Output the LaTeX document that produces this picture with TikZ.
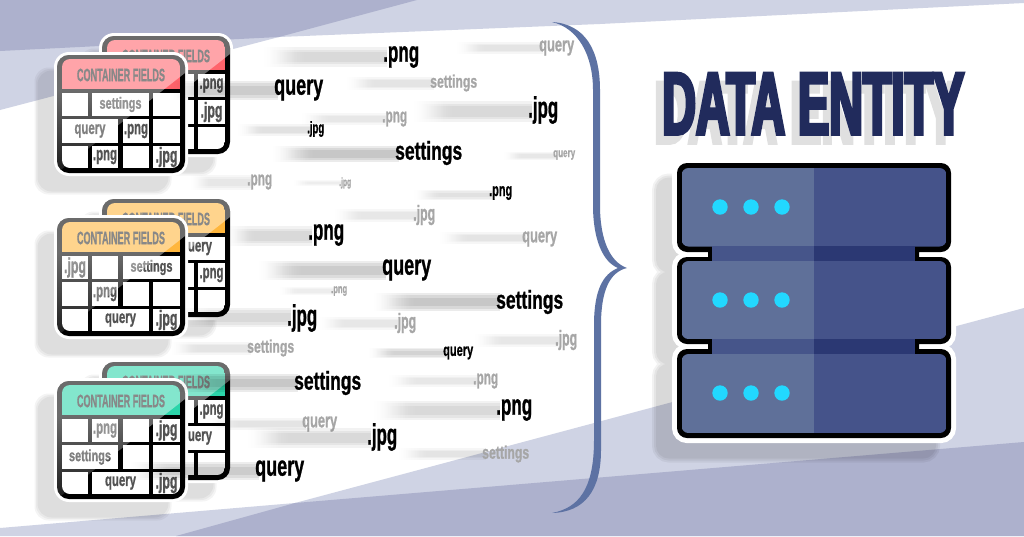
\documentclass[tikz,border=0pt]{standalone}
\usepackage{fontspec}
\usetikzlibrary{fadings}
\setmainfont{Liberation Sans}
\newfontfamily\cond[FakeBold=1.2]{Liberation Sans Bold}
\newfontfamily\heavy[FakeStretch=0.55,FakeBold=3.5]{Liberation Sans Bold}
\definecolor{bgl}{HTML}{CFD3E4}
\definecolor{bgd}{HTML}{ADB1CD}
\definecolor{bracec}{HTML}{5D72A3}
\definecolor{srvl}{HTML}{5F7099}
\definecolor{srvr}{HTML}{45538A}
\definecolor{bandl}{HTML}{46558A}
\definecolor{bandr}{HTML}{2B3873}
\definecolor{dotc}{HTML}{22D8FF}
\definecolor{titlec}{HTML}{212B5C}
\definecolor{tgray}{HTML}{A6A6A6}
\definecolor{pinkc}{HTML}{FF636B}
\definecolor{orangec}{HTML}{FFB63C}
\definecolor{tealc}{HTML}{2BD5AA}
\pgfdeclarehorizontalshading{sfshade}{100bp}{color(0bp)=(transparent!100);color(25bp)=(transparent!100);color(38bp)=(transparent!0);color(100bp)=(transparent!0)}
\pgfdeclarefading{streakfade}{\pgfuseshading{sfshade}}
\pgfdeclareverticalshading{glshade}{100bp}{color(0bp)=(transparent!75);color(25bp)=(transparent!75);color(60bp)=(transparent!0);color(100bp)=(transparent!0)}
\pgfdeclarefading{glossfade}{\pgfuseshading{glshade}}
\newcounter{nid}
% height/width ratio of each word's ink
\expandafter\def\csname r.png\endcsname{.6}
\expandafter\def\csname r.jpg\endcsname{.92}
\expandafter\def\csname rquery\endcsname{.43}
\expandafter\def\csname rsettings\endcsname{.36}
\newcommand{\fitword}[2]{\resizebox*{#2pt}{\csname r#1\endcsname\dimexpr#2pt\relax}{\cond #1}}
% cell: x0 x1 y0 y1 textwidth text
\newcommand{\cellbox}[6]{%
  \fill[white] (#1,#3) rectangle (#2,#4);
  \stepcounter{nid}%
  \node[name=n\thenid,inner sep=0pt,text=black!68] at ({(#1+#2)/2},{(#3+#4)/2}) {\ifx&#6&\else\fitword{#6}{#5}\fi};}
\newcommand{\cardshadow}[2]{%
  \foreach \g in {1.5,0,-1.5}{\fill[black,opacity=.045,rounded corners=14pt] ({#1-3-18-\g},{#2-3+17-\g}) rectangle ({#1+131-18+\g},{#2+121+17+\g});}}
\newcommand{\card}[4]{%
  \begin{scope}[shift={(#1,#2)}]
    \fill[white,rounded corners=15pt] (-3,-3) rectangle (131,121);
    \fill[black,rounded corners=12pt] (0,0) rectangle (128,118);
    \begin{scope}
      \clip[rounded corners=8pt] (5,4) rectangle (123,113);
      \fill[#3] (5,4) rectangle (123,34);
      #4
    \end{scope}
    \stepcounter{nid}%
    \node[name=n\thenid,inner sep=0pt,text=black!80] at (64,20) {\resizebox{88pt}{12.5pt}{\cond CONTAINER FIELDS}};
    \begin{scope}
      \clip[rounded corners=12pt] (0,0) rectangle (128,118);
      \fill[white,opacity=.42,path fading=glossfade] (0,0) -- (128,0) -- (128,18) -- (0,118) -- cycle;
    \end{scope}
  \end{scope}}
\newcommand{\tok}[9]{%
  \foreach \t in {0,.13,.26}{%
    \fill[black,opacity=#9,path fading=streakfade] ({#6+(#2+4-#6)*\t*.4},{#7+(#8-#7)*\t}) rectangle ({#2+4},{#8-(#8-#7)*\t});}
  \stepcounter{nid}%
  \node[name=n\thenid,anchor=west,inner sep=0pt,text=#5] at (#2,#4) {\fitword{#1}{#3}};}
\def\srvpath{[rounded corners=10pt] (677,163) rectangle (951,252) (677,257) rectangle (951,344) (677,349) rectangle (951,438) [sharp corners] (708,240) rectangle (919,270) (708,330) rectangle (919,360)}
\newcommand{\srvsec}[2]{%
  \begin{scope}
    \clip[rounded corners=7pt] (681.5,#1) rectangle (946.5,#2);
    \fill[srvl] (681.5,#1) rectangle (813.7,#2);
    \fill[srvr] (813.7,#1) rectangle (946.5,#2);
  \end{scope}}
\newcommand{\srvdots}[1]{\foreach \d in {720,751,782}{\fill[dotc] (\d,#1) circle (7.7pt);}}
\newcommand{\srvband}[2]{\fill[bandl] (712,#1) rectangle (813.7,#2); \fill[bandr] (813.7,#1) rectangle (915,#2);}
\begin{document}
\begin{tikzpicture}[x=1pt,y=-1pt]
\useasboundingbox (0,0) rectangle (1024,536);
% background
\fill[white] (0,0) rectangle (1024,536);
\fill[bgl] (0,0) -- (1024,0) -- (1024,3) -- (600,24) -- (279,37) -- (0,110) -- cycle;
\fill[bgd] (0,0) -- (417,0) -- (279,37) -- (0,51) -- cycle;
\fill[bgl] (0,528) -- (295,503) -- (1024,308) -- (1024,536) -- (0,536) -- cycle;
\fill[bgd] (176,536) -- (295,503) -- (1024,442) -- (1024,536) -- cycle;
% card shadows
\cardshadow{102}{36}\cardshadow{57}{55}
\cardshadow{102}{199}\cardshadow{57}{218}
\cardshadow{102}{362}\cardshadow{57}{381}
% red cards
\card{102}{36}{pinkc}{%
  \cellbox{5}{31}{38}{61}{1}{}\cellbox{35}{92}{38}{61}{1}{}\cellbox{96}{123}{38}{61}{24}{.png}
  \cellbox{5}{92}{64}{88}{1}{}\cellbox{96}{123}{64}{88}{22}{.jpg}
  \cellbox{5}{92}{91}{113}{1}{}\cellbox{96}{123}{91}{113}{1}{}}
\card{57}{55}{pinkc}{%
  \cellbox{5}{31}{38}{61}{1}{}\cellbox{35}{92}{38}{61}{42}{settings}\cellbox{96}{123}{38}{61}{1}{}
  \cellbox{5}{61}{64}{88}{31}{query}\cellbox{66}{92}{64}{88}{24}{.png}\cellbox{96}{123}{64}{88}{1}{}
  \cellbox{5}{31}{91}{113}{1}{}\cellbox{35}{61}{91}{113}{24}{.png}\cellbox{66}{92}{91}{113}{1}{}\cellbox{96}{123}{91}{113}{22}{.jpg}}
% orange cards
\card{102}{199}{orangec}{%
  \cellbox{66}{123}{38}{61}{31}{query}
  \cellbox{66}{92}{64}{88}{1}{}\cellbox{96}{123}{64}{88}{24}{.png}
  \cellbox{5}{92}{91}{113}{1}{}\cellbox{96}{123}{91}{113}{1}{}}
\card{57}{218}{orangec}{%
  \cellbox{5}{31}{38}{61}{22}{.jpg}\cellbox{35}{61}{38}{61}{1}{}\cellbox{66}{123}{38}{61}{42}{settings}
  \cellbox{5}{31}{64}{88}{1}{}\cellbox{35}{61}{64}{88}{24}{.png}\cellbox{66}{92}{64}{88}{1}{}\cellbox{96}{123}{64}{88}{1}{}
  \cellbox{5}{31}{91}{113}{1}{}\cellbox{35}{92}{91}{113}{31}{query}\cellbox{96}{123}{91}{113}{22}{.jpg}}
% teal cards
\card{102}{362}{tealc}{%
  \cellbox{66}{92}{38}{61}{1}{}\cellbox{96}{123}{38}{61}{24}{.png}
  \cellbox{66}{123}{64}{88}{31}{query}
  \cellbox{66}{92}{91}{113}{1}{}\cellbox{96}{123}{91}{113}{1}{}}
\card{57}{381}{tealc}{%
  \cellbox{5}{31}{38}{61}{1}{}\cellbox{35}{61}{38}{61}{24}{.png}\cellbox{66}{92}{38}{61}{1}{}\cellbox{96}{123}{38}{61}{22}{.jpg}
  \cellbox{5}{61}{64}{88}{42}{settings}\cellbox{66}{92}{64}{88}{1}{}\cellbox{96}{123}{64}{88}{1}{}
  \cellbox{5}{31}{91}{113}{1}{}\cellbox{35}{92}{91}{113}{31}{query}\cellbox{96}{123}{91}{113}{22}{.jpg}}
% flying tokens: text, x, width, y, colour, streak x0, y0, y1, opacity
\tok{.png}{383}{36}{57}{black}{263}{47}{67}{.05}
\tok{query}{539}{35}{48}{tgray}{455}{42}{54}{.035}
\tok{query}{274}{49}{90}{black}{170}{81}{100}{.07}
\tok{settings}{430}{47}{83}{tgray}{345}{77}{90}{.035}
\tok{.jpg}{528}{30}{110}{black}{413}{101}{122}{.05}
\tok{.png}{382}{25}{119}{tgray}{300}{113}{125}{.03}
\tok{.jpg}{307}{17}{129}{black}{237}{124}{136}{.04}
\tok{settings}{395}{67}{153}{black}{272}{146}{162}{.08}
\tok{query}{553}{22}{155}{tgray}{503}{152}{160}{.03}
\tok{.png}{247}{25}{182}{tgray}{190}{175}{190}{.03}
\tok{.jpg}{339}{12}{183}{tgray}{292}{180}{186}{.025}
\tok{.png}{489}{23}{193}{black}{413}{190}{200}{.04}
\tok{.jpg}{413}{22}{215}{tgray}{333}{209}{222}{.03}
\tok{.png}{308}{36}{235}{black}{225}{226}{246}{.05}
\tok{query}{522}{35}{239}{tgray}{438}{232}{244}{.035}
\tok{query}{382}{49}{270}{black}{258}{261}{280}{.07}
\tok{.png}{331}{16}{291}{tgray}{278}{287}{295}{.025}
\tok{settings}{496}{67}{302}{black}{373}{293}{311}{.08}
\tok{.jpg}{287}{30}{318}{black}{180}{308}{327}{.05}
\tok{.jpg}{394}{22}{323}{tgray}{318}{317}{330}{.03}
\tok{settings}{247}{47}{348}{tgray}{170}{342}{355}{.035}
\tok{query}{443}{30}{353}{black}{368}{348}{358}{.06}
\tok{.jpg}{555}{22}{340}{tgray}{473}{334}{347}{.03}
\tok{settings}{294}{67}{383}{black}{175}{374}{392}{.08}
\tok{.png}{473}{25}{381}{tgray}{387}{375}{387}{.03}
\tok{.png}{496}{36}{410}{black}{373}{401}{420}{.05}
\tok{query}{302}{35}{424}{tgray}{205}{418}{430}{.035}
\tok{.jpg}{367}{30}{437}{black}{247}{428}{448}{.05}
\tok{settings}{482}{47}{454}{tgray}{397}{448}{460}{.035}
\tok{query}{255}{49}{471}{black}{130}{462}{480}{.07}
% brace
\fill[bracec] (552,22) .. controls (585,24) and (600,50) .. (600,90) -- (600,205)
  .. controls (600,240) and (610,262) .. (627,268) .. controls (610,272) and (601,290) .. (601,325)
  -- (601,450) .. controls (601,490) and (585,512) .. (552,513)
  .. controls (578,508) and (594,490) .. (594,440) -- (594,325)
  .. controls (594,290) and (603,274) .. (618,268) .. controls (603,262) and (593,240) .. (593,205)
  -- (593,90) .. controls (593,55) and (578,28) .. (552,22) -- cycle;
% server shadow and halo
\begin{scope}[shift={(-18,17.5)}]
  \foreach \w in {14,10,6}{%
    \begin{scope}[transparency group,opacity=.05]
      \filldraw[black,line width=\w pt] \srvpath;
    \end{scope}}
\end{scope}
\filldraw[white,line width=10pt] \srvpath;
\fill[black] \srvpath;
\srvsec{168}{246.5}\srvsec{261}{339}\srvsec{354}{433}
\srvband{246}{261}\srvband{339}{354}
\srvdots{207}\srvdots{300}\srvdots{393}
% title
\node[name=titleshadow,anchor=north west,inner sep=0pt,text=black!12] at (654,82) {\resizebox{302pt}{61pt}{\heavy DATA ENTITY}};
\node[name=title,anchor=north west,inner sep=0pt,text=titlec] at (662,73) {\resizebox{302pt}{61pt}{\heavy DATA ENTITY}};
\end{tikzpicture}
\end{document}
